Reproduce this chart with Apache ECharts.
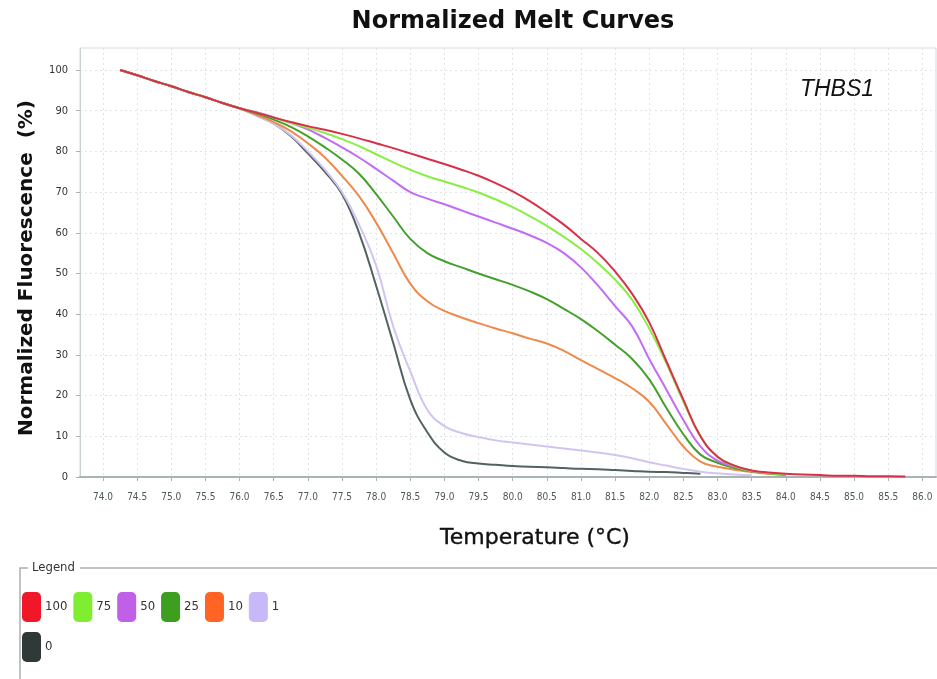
<!DOCTYPE html>
<html>
<head>
<meta charset="utf-8">
<script src="https://cdn.jsdelivr.net/npm/echarts@6/dist/echarts.min.js"></script>
<style>
html,body{margin:0;padding:0;background:#fff;}
#chart{width:937px;height:679px;}
</style>
</head>
<body>
<div id="chart"></div>
<script>
// Temperature grid (°C)
const temps = [74.25,74.5,74.75,75.0,75.25,75.5,75.75,76.0,76.25,76.5,76.75,77.0,77.25,77.5,77.75,78.0,78.25,78.5,78.75,79.0,79.25,79.5,79.75,80.0,80.25,80.5,80.75,81.0,81.25,81.5,81.75,82.0,82.25,82.5,82.75,83.0,83.25,83.5,83.75,84.0,84.25,84.5,84.75,85.0,85.25,85.5,85.75];

// Normalized fluorescence (%) per series
const v100 = [100,98.7,97.3,96.0,94.6,93.3,91.9,90.6, 89.5,88.3,87.2,86.2,85.3,84.3,83.2,82.0,80.8,79.5, 78.2,76.9,75.5,74.0,72.2,70.2,67.8,65.0,62.0,58.5, 55.0,50.5,45.0,38.0,28.5,19.0,10.0,5.0,2.8,1.6, 1.1,0.8,0.6,0.5,0.3,0.3,0.2,0.2,0.1];
const v75  = [100,98.7,97.3,96.0,94.6,93.3,91.9,90.6, 89.5,88.3,87.0,85.8,84.5,83.0,81.3,79.3,77.3,75.5, 73.9,72.6,71.3,69.9,68.2,66.3,64.1,61.7,59.0,56.0, 52.5,48.5,43.5,36.5,28.0,18.5,10.0,5.0,2.7,1.5, 1.0,0.7,null,null,null,null,null,null,null];
const v50  = [100,98.7,97.3,96.0,94.6,93.3,91.9,90.6, 89.6,88.4,87.0,85.4,83.3,81.0,78.5,75.7,72.8,70.0, 68.4,67.0,65.5,64.0,62.5,61.0,59.4,57.5,55.0,51.5, 47.0,42.0,37.0,29.0,21.5,14.0,7.5,4.0,2.5,1.5, 0.9,null,null,null,null,null,null,null,null];
const v25  = [100,98.7,97.3,96.0,94.6,93.3,91.9,90.6, 89.3,87.8,86.0,83.7,81.0,78.0,74.5,69.5,64.0,58.5, 55.0,53.0,51.5,50.0,48.6,47.2,45.6,43.7,41.3,38.8, 35.8,32.5,29.0,24.0,17.0,10.5,5.5,3.5,2.2,1.4, 0.9,0.6,null,null,null,null,null,null,null];
const v10  = [100,98.7,97.3,96.0,94.6,93.3,91.9,90.6, 89.0,87.2,85.0,82.0,78.5,74.0,69.0,62.5,55.0,47.5, 43.2,40.8,39.2,37.8,36.5,35.3,34.0,32.8,31.0,28.7, 26.5,24.3,21.8,18.5,13.0,7.5,3.8,2.5,1.8,1.2, 0.8,0.5,null,null,null,null,null,null,null];
const v1   = [100,98.7,97.3,96.0,94.6,93.3,91.9,90.6, 88.8,86.8,84.0,80.0,75.5,70.0,62.0,52.0,37.0,26.0, 16.5,12.5,10.8,9.8,9.0,8.5,8.0,7.5,7.0,6.5, 6.0,5.4,4.6,3.6,2.8,2.0,1.3,0.9,0.6,0.4, null,null,null,null,null,null,null,null,null];
const v0   = [100,98.7,97.3,96.0,94.6,93.3,91.9,90.6, 88.8,86.8,83.8,79.5,75.0,69.5,60.0,47.0,33.0,19.0, 11.0,6.0,4.0,3.3,3.0,2.7,2.5,2.4,2.2,2.0, 1.9,1.7,1.5,1.3,1.2,1.0,0.8,null,null,null, null,null,null,null,null,null,null,null,null];

const seriesNames = ['100','75','50','25','10','1','0'];
const seriesValues = [v100, v75, v50, v25, v10, v1, v0];
const lineColors = ['#d8304a','#88ee44','#c26cf6','#44a02c','#ee8a4c','#d2c4f2','#526262'];
const legendColors = ['#f01828','#80ee30','#c060e8','#3e9e20','#ff6424','#c8b8f8','#303838'];

const xTicks = [74.0,74.5,75.0,75.5,76.0,76.5,77.0,77.5,78.0,78.5,79.0,79.5,80.0,80.5,81.0,81.5,82.0,82.5,83.0,83.5,84.0,84.5,85.0,85.5,86.0];
const yTicks = [0,10,20,30,40,50,60,70,80,90,100];

const NARROW = '"DejaVu Sans Condensed", "Liberation Sans Narrow", "Liberation Sans", sans-serif';

const chart = echarts.init(document.getElementById('chart'));

function pairs(vals){
  const out = [];
  for (let i = 0; i < temps.length; i++) {
    if (vals[i] !== null) out.push([temps[i], vals[i]]);
  }
  return out;
}

const series = [];
for (let k = seriesNames.length - 1; k >= 0; k--) {
  series.push({
    name: seriesNames[k],
    type: 'line',
    data: pairs(seriesValues[k]),
    showSymbol: false,
    smooth: 0.45,
    lineStyle: { color: lineColors[k], width: 2 },
    itemStyle: { color: legendColors[k] },
    emphasis: { disabled: true },
    animation: false
  });
}

const legendText = { fontFamily: NARROW, fontSize: 13, color: '#333', padding: [0, 0, 0, -1] };

chart.setOption({
  backgroundColor: '#ffffff',
  animation: false,
  grid: {
    left: 80, right: 1, top: 48, bottom: 202,
    show: true, borderColor: '#d3dada', borderWidth: 1, backgroundColor: '#fff'
  },
  xAxis: {
    type: 'value',
    min: 73.663, max: 86.2,
    axisLine: { show: true, lineStyle: { color: '#a9b3b3', width: 2 } },
    axisTick: { show: true, customValues: xTicks, length: 4, lineStyle: { color: '#a9b3b3' } },
    axisLabel: {
      customValues: xTicks,
      formatter: v => v.toFixed(1),
      fontFamily: NARROW, fontSize: 10, color: '#4d5858', margin: 15
    },
    splitLine: { show: true, lineStyle: { color: '#dfe4e4', type: [2, 3] } }
  },
  yAxis: {
    type: 'value',
    min: 0, max: 105.4,
    axisLine: { show: true, lineStyle: { color: '#c8d0d0' } },
    axisTick: { show: true, customValues: yTicks, length: 4, lineStyle: { color: '#a9b3b3' } },
    axisLabel: {
      customValues: yTicks,
      fontFamily: NARROW, fontSize: 11, color: '#333', margin: 12
    },
    splitLine: { show: true, lineStyle: { color: '#dfe4e4', type: [2, 3] } }
  },
  legend: [
    {
      data: seriesNames.slice(0, 6).map((n, i) => ({ name: n, itemStyle: { color: legendColors[i] } })),
      left: 22, top: 592, orient: 'horizontal', padding: 0,
      icon: 'roundRect', itemWidth: 19, itemHeight: 30, itemGap: 6,
      textStyle: legendText,
      selectedMode: false
    },
    {
      data: [{ name: '0', itemStyle: { color: legendColors[6] } }],
      left: 22, top: 632, orient: 'horizontal', padding: 0,
      icon: 'roundRect', itemWidth: 19, itemHeight: 30, itemGap: 6,
      textStyle: legendText,
      selectedMode: false
    }
  ],
  graphic: [
    {
      type: 'text', x: 513, y: 22,
      style: { text: 'Normalized Melt Curves', fontFamily: 'DejaVu Sans', fontSize: 24, fontWeight: 'bold', fill: '#111', align: 'center', verticalAlign: 'middle' }
    },
    {
      type: 'text', x: 27, y: 268, rotation: Math.PI / 2,
      style: { text: 'Normalized Fluorescence  (%)', fontFamily: 'DejaVu Sans', fontSize: 20, fontWeight: 'bold', fill: '#111', align: 'center', verticalAlign: 'middle' }
    },
    {
      type: 'text', x: 535, y: 538,
      style: { text: 'Temperature (°C)', fontFamily: 'DejaVu Sans', fontSize: 22, fontWeight: 'normal', fill: '#111', align: 'center', verticalAlign: 'middle', stroke: '#111', lineWidth: 0.4 }
    },
    {
      type: 'text', x: 837, y: 90,
      style: { text: 'THBS1', fontFamily: 'Liberation Sans', fontSize: 23, fontStyle: 'italic', fill: '#111', align: 'center', verticalAlign: 'middle' }
    },
    {
      type: 'polyline',
      shape: { points: [[20, 679], [20, 568], [28, 568]] },
      style: { stroke: '#a9b1b1', lineWidth: 1.5, fill: null }
    },
    {
      type: 'line',
      shape: { x1: 80, y1: 568, x2: 937, y2: 568 },
      style: { stroke: '#a9b1b1', lineWidth: 1.5 }
    },
    {
      type: 'text', x: 32, y: 568,
      style: { text: 'Legend', fontFamily: NARROW, fontSize: 13, fill: '#333', align: 'left', verticalAlign: 'middle' }
    }
  ],
  series: series
});
</script>
</body>
</html>
